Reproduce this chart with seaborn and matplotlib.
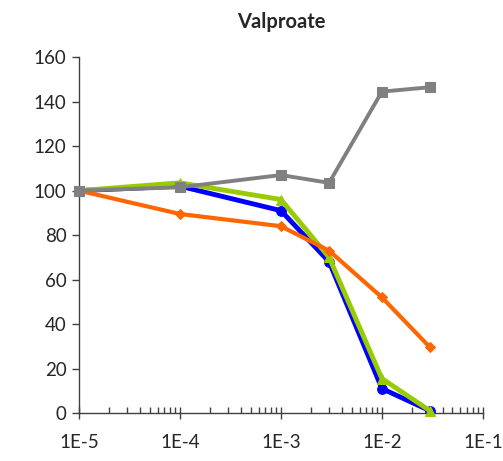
import matplotlib
matplotlib.use("Agg")
import matplotlib.pyplot as plt
import seaborn as sns
import pandas as pd
from matplotlib.ticker import LogLocator, NullFormatter

conc = [1e-5, 1e-4, 1e-3, 3e-3, 1e-2, 3e-2]
blue_vals = [100, 102, 91, 68, 11, 1]
green_vals = [100, 103.5, 96, 70, 15.5, 1]
orange_vals = [100, 89.5, 84, 73, 52, 29.5]
gray_vals = [100, 101.5, 107, 103.5, 144.5, 146.5]
x_tick_labels = ["1E-5", "1E-4", "1E-3", "1E-2", "1E-1"]
y_ticks = [0, 20, 40, 60, 80, 100, 120, 140, 160]

sns.set_style("ticks")
plt.rcParams['font.family'] = ['Lato', 'DejaVu Sans']

fig = plt.figure(figsize=(5.03, 4.61), dpi=100)
ax = fig.add_axes([0.157, 0.104, 0.803, 0.772])

series = [
    (blue_vals, "#0000FF", "o", 3.5, 7),
    (green_vals, "#99CC00", "^", 3.5, 7),
    (orange_vals, "#FF6600", "D", 3.0, 5),
    (gray_vals, "#808080", "s", 2.8, 6.5),
]
for vals, col, mk, lw, ms in series:
    df = pd.DataFrame({"x": conc, "y": vals})
    sns.lineplot(data=df, x="x", y="y", ax=ax, color=col, marker=mk,
                 linewidth=lw, markersize=ms, markeredgecolor=col, zorder=3,
                 clip_on=False)

ax.set_xscale("log")
ax.set_xlim(1e-5, 1e-1)
ax.set_ylim(0, 160)
ax.set_yticks(y_ticks)
ax.xaxis.set_minor_locator(LogLocator(base=10, subs=range(2, 10), numticks=20))
ax.xaxis.set_minor_formatter(NullFormatter())
ax.set_xticks([1e-5, 1e-4, 1e-3, 1e-2, 1e-1])
ax.set_xticklabels(x_tick_labels)
ax.set_xlabel("")
ax.set_ylabel("")
ax.tick_params(axis='x', which='major', direction='inout', length=8, width=1,
               labelsize=13.5, pad=11, color='#404040')
ax.tick_params(axis='x', which='minor', direction='in', length=4, width=1, color='#404040')
ax.tick_params(axis='y', which='major', direction='out', length=5, width=1,
               labelsize=13.5, pad=4, color='#404040')
for s in ["top", "right"]:
    ax.spines[s].set_visible(False)
for s in ["left", "bottom"]:
    ax.spines[s].set_color('#404040')
    ax.spines[s].set_linewidth(1)
ax.set_title("Valproate", fontsize=14.5, fontweight='bold', pad=21)

fig.savefig("out.png", dpi=100)
